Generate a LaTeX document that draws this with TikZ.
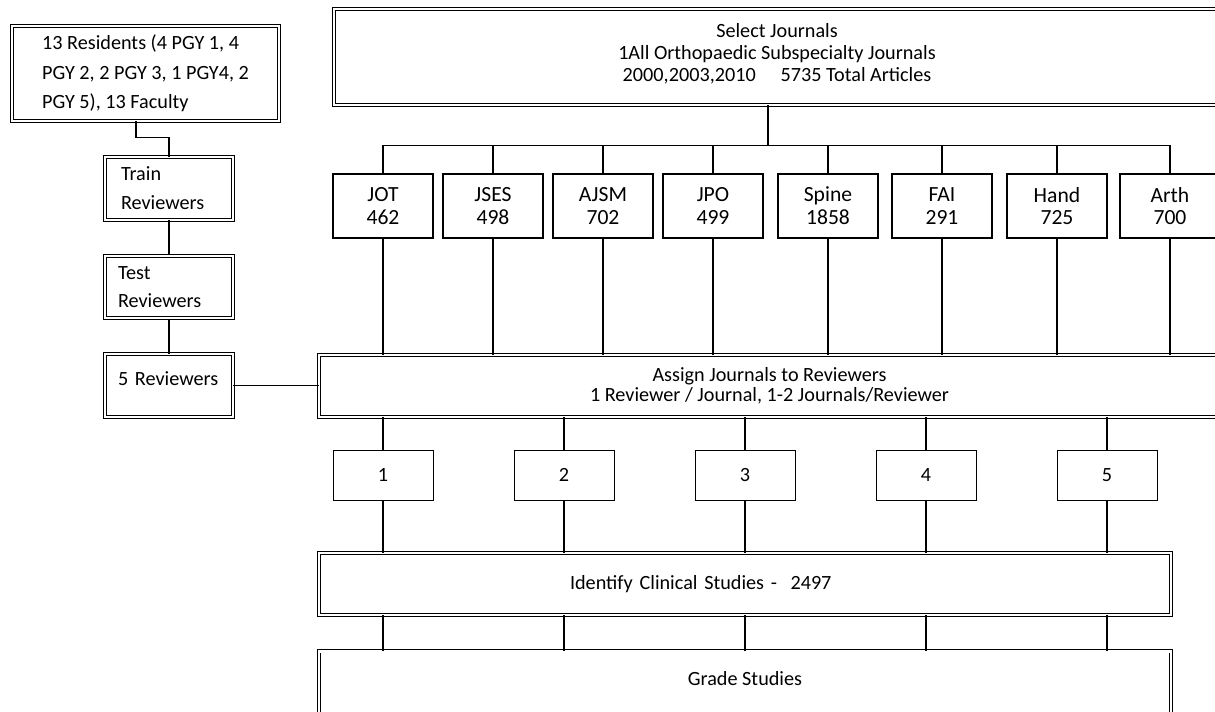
\documentclass[tikz,border=0pt]{standalone}
\usepackage{fontspec}
\setmainfont{Carlito}

\begin{document}
\begin{tikzpicture}[x=0.02cm,y=-0.02cm,
   dbox/.style={draw,shape=rectangle,double,double distance=1.3pt,line width=0.5pt,inner sep=0pt},
   sidebox/.style={dbox,minimum width=2.56cm,minimum height=1.25cm,text width=2.04cm,align=left,
      font=\fontsize{11.5}{16.4}\selectfont},
   jbox/.style={draw,shape=rectangle,line width=0.6pt,minimum width=2cm,minimum height=1.32cm,
      inner sep=0pt,align=center,font=\fontsize{12.3}{13}\selectfont},
   rbox/.style={draw,shape=rectangle,line width=0.5pt,minimum width=2cm,minimum height=1cm,
      inner sep=0pt,font=\fontsize{11.5}{13}\selectfont},
   link/.style={line width=0.6pt}]
   \useasboundingbox (0,0) rectangle (1215,711);

   \path (145.5,73.5) node[dbox,minimum width=5.34cm,minimum height=1.9cm,
      align=left,font=\fontsize{11.5}{16.8}\selectfont] (res)
   {13 Residents (4 PGY 1, 4\\PGY 2, 2 PGY 3, 1 PGY4, 2\\PGY 5), 13 Faculty};
   \path (169,188.5) node[sidebox,text width=1.92cm] (train) {Train\\Reviewers};
   \path (169,287) node[sidebox] (test) {Test\\Reviewers};
   \path (169,385.5) node[sidebox] (five) {5 Reviewers\\[-9pt]~};

   \path (777,57) node[dbox,minimum width=17.72cm,minimum height=1.92cm,align=center,
      font=\fontsize{11.5}{12.5}\selectfont] (sel)
   {Select Journals\\1All Orthopaedic Subspecialty Journals\\2000,2003,2010\quad\ 5735 Total Articles\\[-7pt]~};

   \foreach \n/\x/\a/\b in {jot/383/JOT/462,jses/493/JSES/498,ajsm/603/AJSM/702,jpo/713/JPO/499,
      spine/828/Spine/1858,fai/942/FAI/291,hand/1057/Hand/725,arth/1170/Arth/700}
      \path (\x,206) node[jbox,minimum height=1.28cm] (\n) {\a\\\b};

   \path (769.5,386) node[dbox,minimum width=18.02cm,minimum height=1.24cm,align=center,
      font=\fontsize{11.5}{11.6}\selectfont] (assign)
   {Assign Journals to Reviewers\\1 Reviewer / Journal, 1-2 Journals/Reviewer};

   \foreach \i/\x in {1/383,2/564,3/745,4/926,5/1107}
      \path (\x,475) node[rbox] (r\i) {\i};

   \path (745,584) node[dbox,minimum width=17.04cm,minimum height=1.24cm,text width=7cm,
      align=left,font=\fontsize{11.5}{13}\selectfont] (ident)
   {Identify Clinical Studies -\ \ 2497};
   \path (745,651) node[dbox,anchor=north,minimum width=17.04cm,text height=0.68cm,
      text depth=1cm,align=center,font=\fontsize{11.5}{13}\selectfont] (grade)
   {Grade Studies};

   \draw[link] ([xshift=-0.19cm]res.south) -- ++(0,16) -| (train.north);
   \draw[link] (train.south) -- (test.north);
   \draw[link] (test.south) -- (five.north);
   \draw[link] (five.east) -- (five.east -| assign.west);

   \draw[link] ([xshift=-0.18cm]sel.south) -- ++(0,40) coordinate (bus);
   \draw[link] (jot.north |- bus) -- (arth.north |- bus);
   \foreach \n in {jot,jses,ajsm,jpo,spine,fai,hand,arth}
   {
      \draw[link] (\n.north |- bus) -- (\n.north);
      \draw[line width=1.1pt] (\n.south) -- (\n.south |- assign.north);
   }

   \foreach \i in {1,...,5}
   {
      \draw[link] (assign.south -| r\i.north) -- (r\i.north);
      \draw[link] (r\i.south) -- (r\i.south |- ident.north);
      \draw[link] (ident.south -| r\i.south) -- (grade.north -| r\i.south);
   }
\end{tikzpicture}
\end{document}
